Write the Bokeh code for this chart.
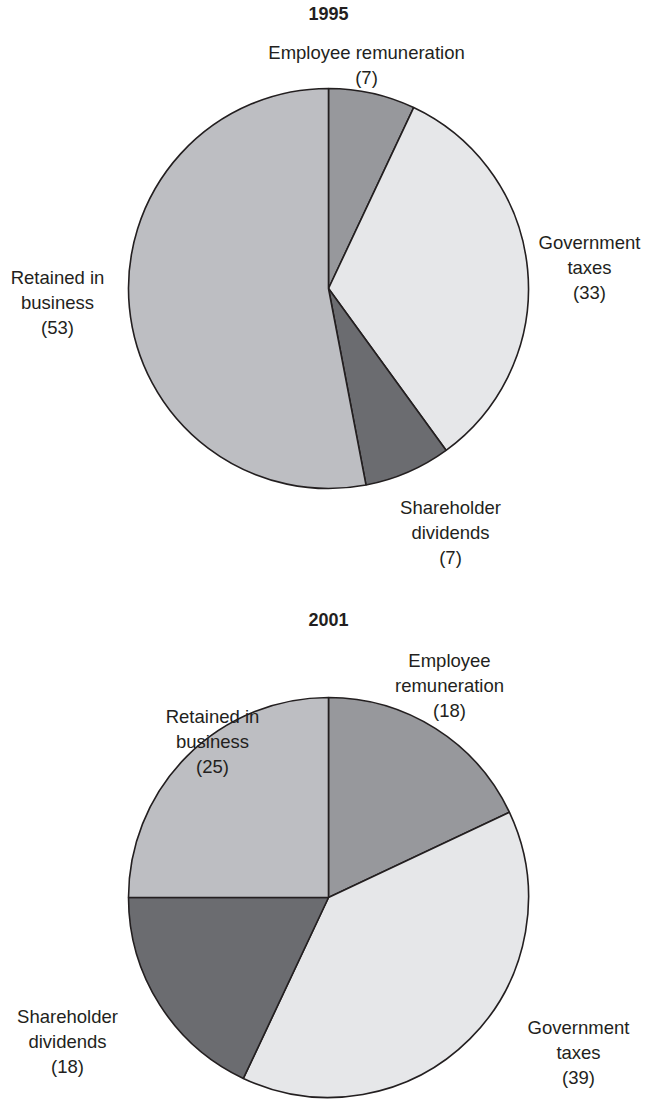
import numpy as np
from bokeh.plotting import figure
from bokeh.models import ColumnDataSource, Range1d
from bokeh.core.properties import value
from bokeh.embed import file_html
from bokeh.resources import INLINE

# ---- data ----
categories = ["Employee remuneration", "Government taxes", "Shareholder dividends", "Retained in business"]
values_1995 = [7, 33, 7, 53]
values_2001 = [18, 39, 18, 25]
colors = ["#97989c", "#e6e7e9", "#6b6c70", "#bdbec2"]
label_lines_1995 = ["Employee remuneration", "Government\ntaxes", "Shareholder\ndividends", "Retained in\nbusiness"]
label_lines_2001 = ["Employee\nremuneration", "Government\ntaxes", "Shareholder\ndividends", "Retained in\nbusiness"]

W, H = 663, 1100
FONT = "Liberation Sans"

p = figure(width=W, height=H, output_backend="svg", toolbar_location=None,
           x_range=Range1d(0, W), y_range=Range1d(0, H), min_border=0)
p.axis.visible = False
p.grid.visible = False
p.outline_line_color = None
p.background_fill_color = "white"

def Y(py):
    return H - py

def draw_pie(vals, cx, cy, r, title, title_y, label_texts, label_pos):
    v = np.array(vals, dtype=float)
    frac = v / v.sum()
    cum = np.concatenate([[0], np.cumsum(frac)])
    start = np.pi / 2 - cum[:-1] * 2 * np.pi
    end = np.pi / 2 - cum[1:] * 2 * np.pi
    src = ColumnDataSource(dict(x=[cx] * len(v), y=[Y(cy)] * len(v), start=start, end=end,
                                color=colors))
    p.wedge(x="x", y="y", radius=r, start_angle="start", end_angle="end", direction="clock",
            fill_color="color", line_color="#231f20", line_width=1.6, source=src)
    p.text(x=[cx], y=[Y(title_y)], text=[title], text_font=value(FONT), text_font_style="bold",
           text_font_size="18px", text_align="center", text_baseline="middle", text_color="#231f20")
    texts = [f"{t}\n({int(val)})" for t, val in zip(label_texts, vals)]
    lsrc = ColumnDataSource(dict(x=[q[0] for q in label_pos], y=[Y(q[1]) for q in label_pos], t=texts))
    p.text(x="x", y="y", text="t", source=lsrc, text_font=value(FONT), text_font_size="18.5px",
           text_align="center", text_baseline="top", text_line_height=1.2, text_color="#231f20")

draw_pie(values_1995, 328, 288, 200, "1995", 13, label_lines_1995,
         [(366, 41), (589, 231), (450, 496), (57, 266)])
draw_pie(values_2001, 328, 897, 200, "2001", 619, label_lines_2001,
         [(449, 649), (578, 1016), (67, 1005), (212, 705)])

open("out.html", "w").write(file_html(p, INLINE))
